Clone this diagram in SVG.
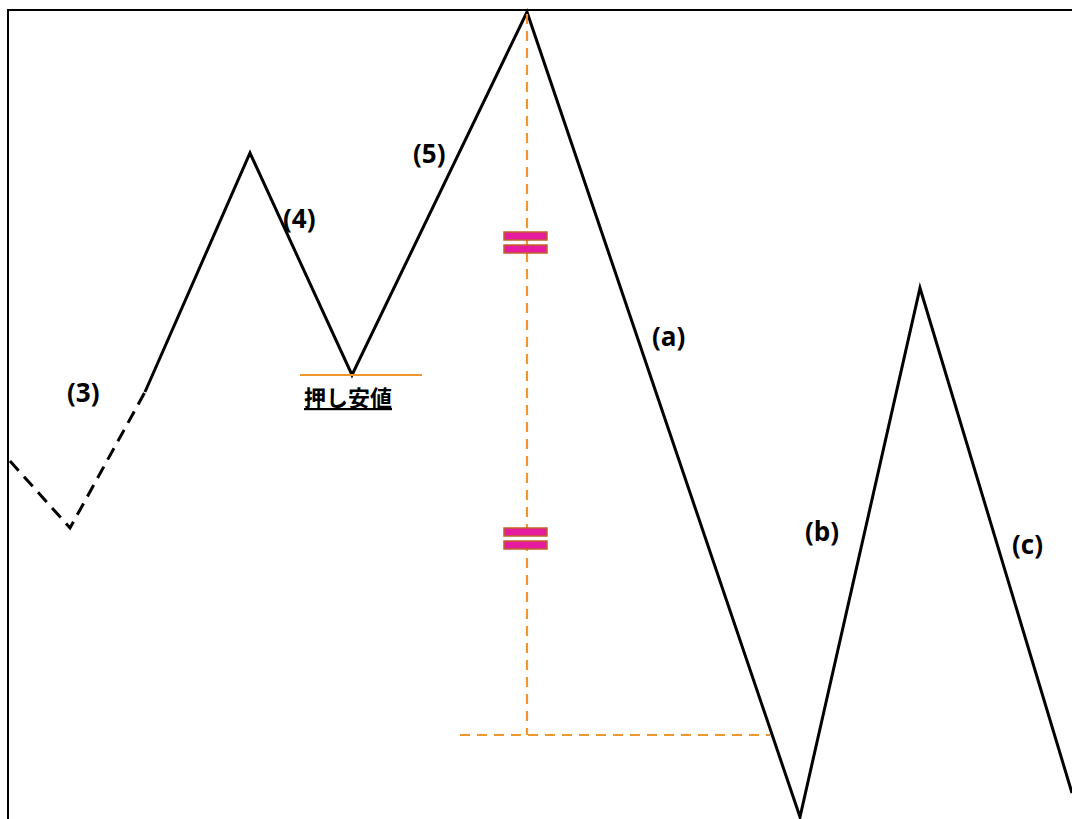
<svg xmlns="http://www.w3.org/2000/svg" width="1072" height="819" viewBox="0 0 1072 819">
<style>
.lbl{font-family:"Open Sans","Liberation Sans",sans-serif;font-weight:bold;font-size:26px;fill:#000}
.jp{font-family:"Noto Sans CJK JP","Noto Sans CJK SC",sans-serif;font-weight:bold;font-size:22px;fill:#000}
.wave{fill:none;stroke:#000;stroke-width:3;stroke-linejoin:miter}
.guide{fill:none;stroke:#f0962e;stroke-width:2.2;stroke-dasharray:10,7}
.eq{fill:#e61ba0;stroke:#c0622a;stroke-width:1.5}
</style>
<rect width="1072" height="819" fill="#fff"/>
<g id="frame"><path d="M8,819 V10 H1072" fill="none" stroke="#000" stroke-width="2"/></g>
<g id="connectors">
<path class="wave" d="M10,461 L70,528 L145,392" stroke-dasharray="13,8"/>
<path class="wave" d="M145,392 L250,153 L352,375 L527,12 L800,817 L920,288 L1072,793"/>
<line x1="300" y1="375" x2="422" y2="375" stroke="#f0962e" stroke-width="2"/>
<path class="guide" d="M527,14 V735 M460,735 H770"/>
</g>
<g id="eq1"><rect class="eq" x="504" y="232" width="43" height="8"/><rect class="eq" x="504" y="245" width="43" height="8"/></g>
<g id="eq2"><rect class="eq" x="504" y="528" width="43" height="8"/><rect class="eq" x="504" y="541" width="43" height="8"/></g>
<g id="labels">
<text class="lbl" x="67" y="402">(3)</text>
<text class="lbl" x="283" y="228">(4)</text>
<text class="lbl" x="413" y="163">(5)</text>
<text class="lbl" x="652" y="346">(a)</text>
<text class="lbl" x="805" y="541">(b)</text>
<text class="lbl" x="1012" y="554">(c)</text>
<text class="jp" x="304" y="406" text-decoration="underline">押し安値</text>
</g>
</svg>
